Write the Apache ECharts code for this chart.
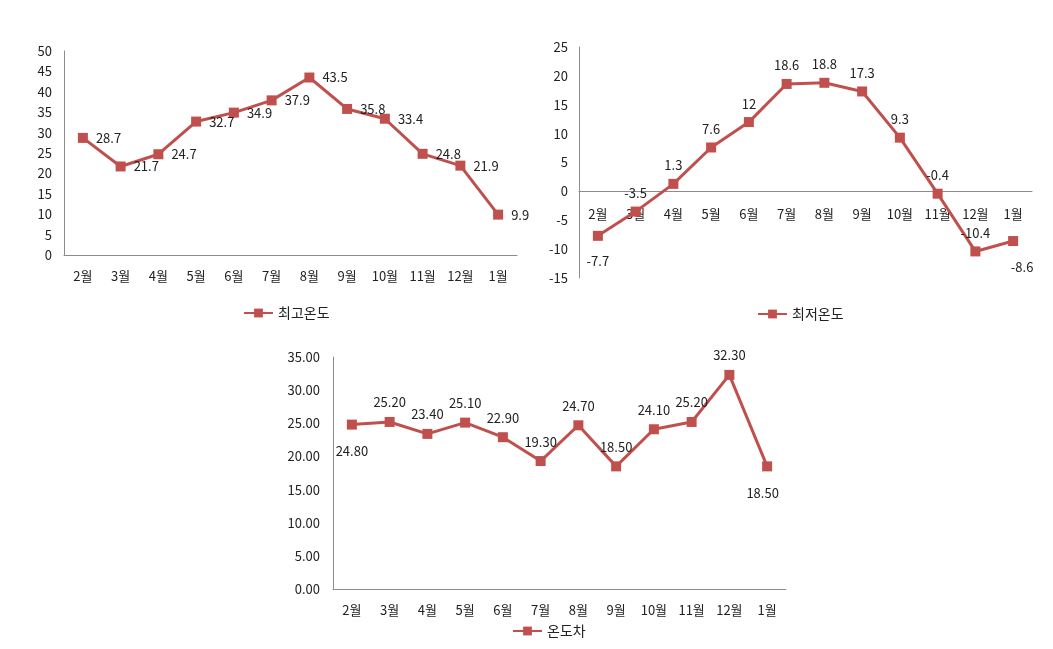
<!DOCTYPE html>
<html><head><meta charset="utf-8">
<script src="https://cdn.jsdelivr.net/npm/echarts@6/dist/echarts.min.js"></script>
<style>html,body{margin:0;padding:0;background:#fff}#c{width:1053px;height:649px}</style>
</head><body><div id="c"></div>
<script>
const months = ['2월','3월','4월','5월','6월','7월','8월','9월','10월','11월','12월','1월'];
const maxName = '최고온도';
const maxTemp = [28.7, 21.7, 24.7, 32.7, 34.9, 37.9, 43.5, 35.8, 33.4, 24.8, 21.9, 9.9];
const minName = '최저온도';
const minTemp = [-7.7, -3.5, 1.3, 7.6, 12, 18.6, 18.8, 17.3, 9.3, -0.4, -10.4, -8.6];
const diffName = '온도차';
const diffTemp = [24.8, 25.2, 23.4, 25.1, 22.9, 19.3, 24.7, 18.5, 24.1, 25.2, 32.3, 18.5];

const RED = '#c0504d';
const FONT = '"Noto Sans CJK KR", "Noto Sans", sans-serif';
const TXT = '#222';
const FS = 13;

// label placement overrides (style, by index)
const minLabelBelow = {0: 'bottom', 11: 'bottom'};
const diffLabelBelow = {0: 'bottom', 11: 'bottom'};

// grid geometry
const G2 = { left: 579, top: 47, width: 453, height: 231 };
const MIN2 = -15, MAX2 = 25;
const zeroOffset2 = -G2.height * (0 - MIN2) / (MAX2 - MIN2);

function axisX(gi, margin, offset) {
  return {
    type: 'category', gridIndex: gi, data: months, boundaryGap: true,
    position: 'bottom', offset: offset || 0,
    axisLine: { show: true, onZero: false, lineStyle: { color: '#8c8c8c', width: 1 } },
    axisTick: { show: false },
    axisLabel: { color: TXT, fontSize: FS, fontFamily: FONT, margin: margin, interval: 0 },
    splitLine: { show: false }
  };
}
function axisY(gi, min, max, fmt, margin) {
  return {
    type: 'value', gridIndex: gi, min: min, max: max, interval: 5,
    axisLine: { show: true, lineStyle: { color: '#8c8c8c', width: 1 } },
    axisTick: { show: false },
    axisLabel: { color: TXT, fontSize: FS, fontFamily: FONT, margin: margin, formatter: fmt },
    splitLine: { show: false }
  };
}
function series(name, data, idx, base) {
  return {
    name: name, type: 'line', xAxisIndex: idx, yAxisIndex: idx,
    data: data, symbol: 'rect', symbolSize: 10,
    lineStyle: { color: RED, width: 3 },
    itemStyle: { color: RED },
    label: base,
    labelLayout: { hideOverlap: false },
    emphasis: { disabled: true },
    animation: false
  };
}

const minData = minTemp.map((v, i) => {
  const p = minLabelBelow[i];
  if (p) {
    return { value: v, label: { position: p, distance: i === 11 ? 15 : 14, padding: i === 11 ? [0, 0, 0, 18] : 0 } };
  }
  return v;
});
const diffData = diffTemp.map((v, i) => {
  const p = diffLabelBelow[i];
  if (p) {
    return { value: v, label: { position: p, distance: 15, padding: i === 11 ? [0, 9, 0, 0] : 0 } };
  }
  return v;
});

const lbl = (pos, dist, fmt) => ({ show: true, position: pos, distance: dist, color: TXT, fontSize: FS, fontFamily: FONT, formatter: fmt });
const legendText = { color: TXT, fontSize: 14, fontFamily: FONT };

const chart = echarts.init(document.getElementById('c'), null, { renderer: 'canvas' });
chart.setOption({
  backgroundColor: '#fff',
  animation: false,
  textStyle: { fontFamily: FONT },
  grid: [
    { left: 64, top: 51, width: 453, height: 204 },
    G2,
    { left: 333, top: 357, width: 453, height: 232 }
  ],
  xAxis: [axisX(0, 15), axisX(1, 16, zeroOffset2), axisX(2, 15)],
  yAxis: [
    axisY(0, 0, 50, v => v, 12),
    axisY(1, MIN2, MAX2, v => v, 11),
    axisY(2, 0, 35, v => v.toFixed(2), 13)
  ],
  legend: [
    { data: [maxName], left: 238, top: 301, itemWidth: 29, itemHeight: 11, itemGap: 10, textStyle: legendText },
    { data: [minName], left: 752, top: 302, itemWidth: 29, itemHeight: 11, textStyle: legendText },
    { data: [diffName], left: 507, top: 619, itemWidth: 29, itemHeight: 11, textStyle: legendText }
  ],
  series: [
    series(maxName, maxTemp, 0, lbl('right', 8, p => p.value)),
    series(minName, minData, 1, lbl('top', 7, p => p.value)),
    series(diffName, diffData, 2, lbl('top', 8, p => Number(p.value).toFixed(2)))
  ]
});
</script>
</body></html>
